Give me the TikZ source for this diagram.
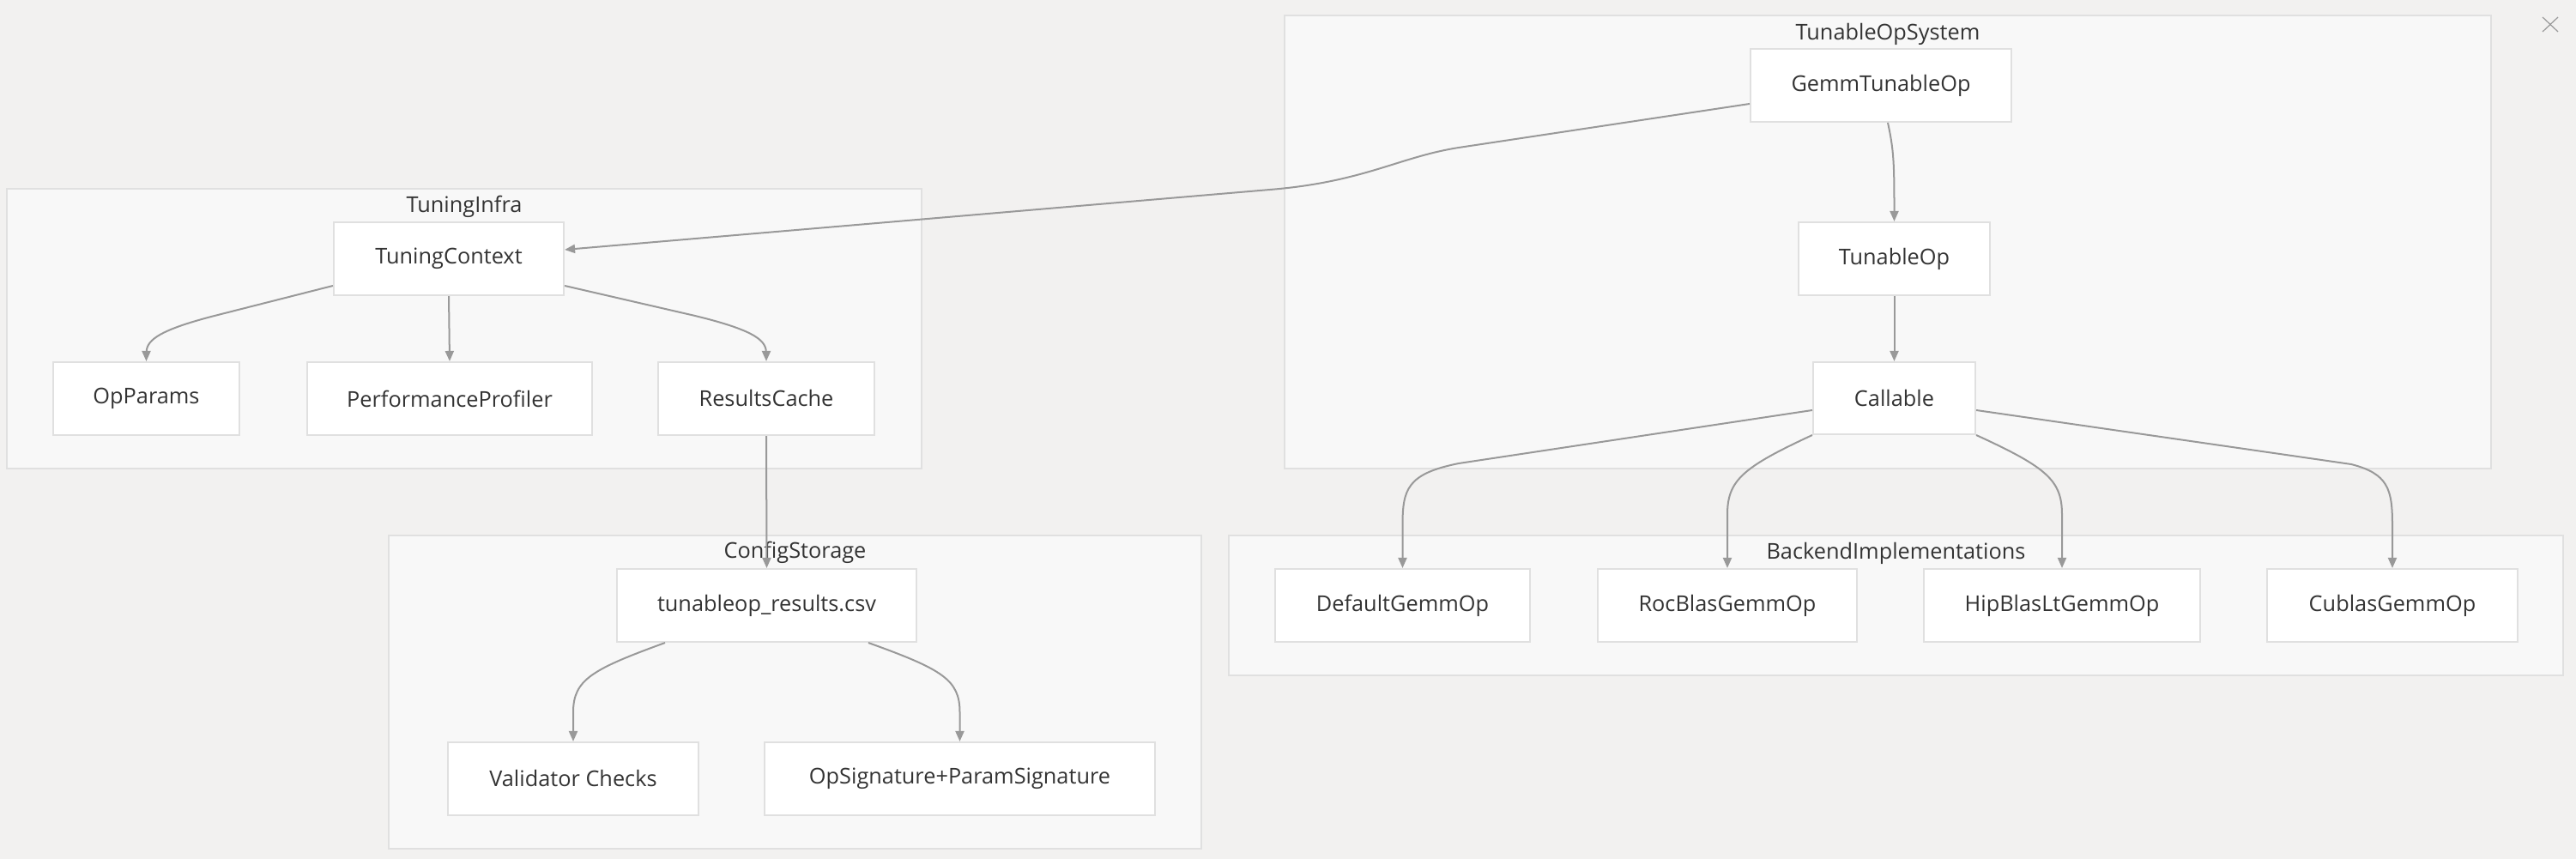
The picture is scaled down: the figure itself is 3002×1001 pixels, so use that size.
\documentclass[tikz,border=0pt]{standalone}
\usepackage{fontspec}
\setmainfont{Open Sans}
\usetikzlibrary{arrows.meta,calc}
\definecolor{bgc}{RGB}{242,241,240}
\definecolor{clfill}{RGB}{248,248,248}
\definecolor{clline}{RGB}{224,224,224}
\definecolor{ndline}{RGB}{224,224,224}
\definecolor{edgec}{RGB}{153,153,153}
\definecolor{txt}{RGB}{51,51,51}
\tikzset{
  box/.style={draw=ndline, line width=0.02cm, fill=white, minimum height=0.85cm, inner sep=0pt, text=txt, font=\fontsize{7.2pt}{8.5pt}\selectfont},
  cluster/.style={draw=clline, line width=0.02cm, fill=clfill},
  cltitle/.style={text=txt, inner sep=0pt, font=\fontsize{7.2pt}{8.5pt}\selectfont},
  conn/.style={draw=edgec, line width=0.02cm, -{Triangle[length=0.12cm,width=0.1cm]}},
}
\begin{document}
\begin{tikzpicture}[x=0.01cm,y=-0.01cm]
\fill[bgc] (0,0) rectangle (3002,1001);
\useasboundingbox (0,0) rectangle (3002,1001);
% clusters
\draw[cluster] (8,220) rectangle (1074,546);
\draw[cluster] (1497,18) rectangle (2903,546);
\draw[cluster] (453,624) rectangle (1400,989);
\draw[cluster] (1432,624) rectangle (2987,787);
\node[cltitle] (lti) at (541,241) {TuningInfra};
\node[cltitle] (lts) at (2200,40) {TunableOpSystem};
\node[cltitle] (lcs) at (926.5,644) {ConfigStorage};
\node[cltitle] (lbi) at (2209.5,645) {BackendImplementations};
% nodes
\node[box, minimum width=3.04cm] (gemm) at (2192,99.5) {GemmTunableOp};
\node[box, minimum width=2.23cm] (tunable) at (2207.5,301.5) {TunableOp};
\node[box, minimum width=1.89cm, minimum height=0.84cm] (callable) at (2207.5,464) {Callable};
\node[box, minimum width=2.68cm] (tc) at (523,301.5) {TuningContext};
\node[box, minimum width=2.17cm] (opp) at (170.5,464.5) {OpParams};
\node[box, minimum width=3.32cm] (pp) at (524,464.5) {PerformanceProfiler};
\node[box, minimum width=2.52cm] (rc) at (893,464.5) {ResultsCache};
\node[box, minimum width=3.49cm] (csv) at (893.5,705.5) {tunableop\_results.csv};
\node[box, minimum width=2.92cm] (val) at (668,907.5) {Validator Checks};
\node[box, minimum width=4.55cm] (opsig) at (1118.5,907.5) {OpSignature+ParamSignature};
\node[box, minimum width=2.97cm] (dflt) at (1634.5,705.5) {DefaultGemmOp};
\node[box, minimum width=3.02cm] (roc) at (2013,705.5) {RocBlasGemmOp};
\node[box, minimum width=3.22cm] (hip) at (2403,705.5) {HipBlasLtGemmOp};
\node[box, minimum width=2.92cm] (cub) at (2788,705.5) {CublasGemmOp};
% close icon
\coordinate (xa) at (2963,20);
\coordinate (xb) at (2981,37);
\coordinate (xc) at (2963,37);
\coordinate (xd) at (2981,20);
\draw[edgec, line width=0.012cm] (xa) -- (xb) (xc) -- (xd);
% edges
\draw[conn] ($(gemm.west)+(0,21.5)$) -- (1700,172) .. controls (1630,183) and (1590,212) .. (1480,221) -- ($(tc.east)+(0,-10.5)$);
\draw[conn] ($(gemm.south)+(8,0)$) .. controls (2207,175) and (2207.5,190) .. (tunable.north);
\draw[conn] (tunable.south) -- (callable.north);
\draw[conn] ($(callable.west)+(0,14)$) -- (1700,540) .. controls (1640,552) and (1634.5,570) .. (1634.5,612) -- (dflt.north);
\draw[conn] (callable.south west) .. controls (2030,545) and (2013,560) .. (2013,600) -- (roc.north);
\draw[conn] (callable.south east) .. controls (2386,545) and (2403,560) .. (2403,600) -- (hip.north);
\draw[conn] ($(callable.east)+(0,14)$) -- (2740,541) .. controls (2783,552) and (2788,570) .. (2788,612) -- (cub.north);
\draw[conn] ($(tc.west)+(0,31.5)$) -- (250,368) .. controls (180,386) and (170.5,398) .. (170.5,412) -- (opp.north);
\draw[conn] (tc.south) -- (pp.north);
\draw[conn] ($(tc.east)+(0,31.5)$) -- (810,368) .. controls (884,386) and (893,398) .. (893,412) -- (rc.north);
\draw[conn] (rc.south) -- (csv.north);
\draw[conn] ($(csv.south)+(-118.5,0)$) .. controls (690,780) and (668,792) .. (668,830) -- (val.north);
\draw[conn] ($(csv.south)+(118.5,0)$) .. controls (1098,780) and (1118.5,792) .. (1118.5,830) -- (opsig.north);
\end{tikzpicture}
\end{document}
